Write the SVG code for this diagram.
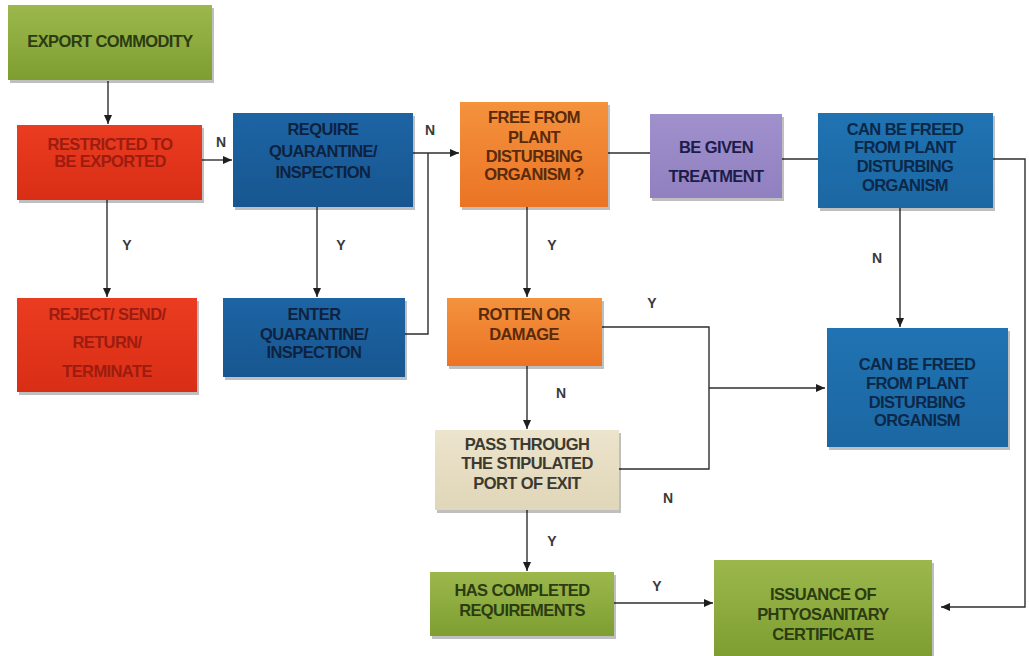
<svg xmlns="http://www.w3.org/2000/svg" width="1029" height="656" viewBox="0 0 1029 656">
<style>
.t{font-family:"Liberation Sans",Arial,sans-serif;font-weight:bold;font-size:16.5px;text-anchor:middle;letter-spacing:-0.6px}
.lbl{font-family:"Liberation Sans",Arial,sans-serif;font-weight:bold;font-size:14px;text-anchor:middle;fill:#3a3a3a}
.ln{fill:none;stroke:#2e2e2e;stroke-width:1.4}
.sh{fill:#000;opacity:0.25}
</style>
<defs>
<marker id="ah" markerWidth="10" markerHeight="10" refX="9" refY="5" orient="auto" markerUnits="userSpaceOnUse">
<path d="M0,1 L9,5 L0,9 Z" fill="#1e1e1e"/>
</marker>
<linearGradient id="gG" x1="0" y1="0" x2="0" y2="1"><stop offset="0" stop-color="#9cb84c"/><stop offset="1" stop-color="#7e9e32"/></linearGradient>
<linearGradient id="gR" x1="0" y1="0" x2="0" y2="1"><stop offset="0" stop-color="#ea3c20"/><stop offset="1" stop-color="#d92e16"/></linearGradient>
<linearGradient id="gB" x1="0" y1="0" x2="0" y2="1"><stop offset="0" stop-color="#1d64a4"/><stop offset="1" stop-color="#175690"/></linearGradient>
<linearGradient id="gB2" x1="0" y1="0" x2="0" y2="1"><stop offset="0" stop-color="#2073b2"/><stop offset="1" stop-color="#1b67a3"/></linearGradient>
<linearGradient id="gO" x1="0" y1="0" x2="0" y2="1"><stop offset="0" stop-color="#f4923e"/><stop offset="1" stop-color="#ea7424"/></linearGradient>
<linearGradient id="gP" x1="0" y1="0" x2="0" y2="1"><stop offset="0" stop-color="#a090cc"/><stop offset="1" stop-color="#9080c0"/></linearGradient>
<linearGradient id="gE" x1="0" y1="0" x2="0" y2="1"><stop offset="0" stop-color="#ece4cc"/><stop offset="1" stop-color="#e0d6b8"/></linearGradient>
</defs>
<rect width="1029" height="656" fill="#ffffff"/>

<g id="connectors">
<path class="ln" d="M108,81 V124" marker-end="url(#ah)"/>
<path class="ln" d="M202,160 H232" marker-end="url(#ah)"/>
<path class="ln" d="M107,200 V297" marker-end="url(#ah)"/>
<path class="ln" d="M317,207 V297" marker-end="url(#ah)"/>
<path class="ln" d="M413,153 H459" marker-end="url(#ah)"/>
<path class="ln" d="M405,334 H428 V153"/>
<path class="ln" d="M608,153 H650"/>
<path class="ln" d="M782,159 H818"/>
<path class="ln" d="M993,159 H1025 V607 H941" marker-end="url(#ah)"/>
<path class="ln" d="M900,208 V327" marker-end="url(#ah)"/>
<path class="ln" d="M527,207 V297" marker-end="url(#ah)"/>
<path class="ln" d="M602,327 H709 V469 H619"/>
<path class="ln" d="M709,388 H825" marker-end="url(#ah)"/>
<path class="ln" d="M527,366 V429" marker-end="url(#ah)"/>
<path class="ln" d="M527,510 V571" marker-end="url(#ah)"/>
<path class="ln" d="M614,603 H713" marker-end="url(#ah)"/>
<text class="lbl" x="221" y="147">N</text>
<text class="lbl" x="430" y="135">N</text>
<text class="lbl" x="127" y="250">Y</text>
<text class="lbl" x="341" y="250">Y</text>
<text class="lbl" x="552" y="250">Y</text>
<text class="lbl" x="877" y="263">N</text>
<text class="lbl" x="652" y="308">Y</text>
<text class="lbl" x="561" y="398">N</text>
<text class="lbl" x="668" y="503">N</text>
<text class="lbl" x="552" y="546">Y</text>
<text class="lbl" x="657" y="591">Y</text>
</g>

<g id="export-commodity">
<rect class="sh" x="10" y="8" width="204" height="75"/>
<rect x="8" y="5" width="204" height="75" fill="url(#gG)"/>
<text class="t" x="110" y="47" fill="#2c3c12">EXPORT COMMODITY</text>
</g>

<g id="restricted">
<rect class="sh" x="19" y="128" width="185" height="75"/>
<rect x="17" y="125" width="185" height="75" fill="url(#gR)"/>
<text class="t" fill="#9c1c10"><tspan x="110" y="150">RESTRICTED TO</tspan><tspan x="110" y="167">BE EXPORTED</tspan></text>
</g>

<g id="require-quarantine">
<rect class="sh" x="235" y="116" width="180" height="94"/>
<rect x="233" y="113" width="180" height="94" fill="url(#gB)"/>
<text class="t" fill="#0e2240"><tspan x="323" y="135">REQUIRE</tspan><tspan x="323" y="157">QUARANTINE/</tspan><tspan x="323" y="178">INSPECTION</tspan></text>
</g>

<g id="free-from-organism">
<rect class="sh" x="462" y="105" width="148" height="105"/>
<rect x="460" y="102" width="148" height="105" fill="url(#gO)"/>
<text class="t" fill="#5a2a0c"><tspan x="534" y="123">FREE FROM</tspan><tspan x="534" y="143">PLANT</tspan><tspan x="534" y="162">DISTURBING</tspan><tspan x="534" y="180">ORGANISM ?</tspan></text>
</g>

<g id="be-given-treatment">
<rect class="sh" x="652" y="117" width="132" height="84"/>
<rect x="650" y="114" width="132" height="84" fill="url(#gP)"/>
<text class="t" fill="#1c1c48"><tspan x="716" y="153">BE GIVEN</tspan><tspan x="716" y="182">TREATMENT</tspan></text>
</g>

<g id="can-be-freed-top">
<rect class="sh" x="820" y="116" width="175" height="95"/>
<rect x="818" y="113" width="175" height="95" fill="url(#gB2)"/>
<text class="t" fill="#0c2848"><tspan x="905" y="135">CAN BE FREED</tspan><tspan x="905" y="153">FROM PLANT</tspan><tspan x="905" y="172">DISTURBING</tspan><tspan x="905" y="191">ORGANISM</tspan></text>
</g>

<g id="reject">
<rect class="sh" x="19" y="301" width="180" height="94"/>
<rect x="17" y="298" width="180" height="94" fill="url(#gR)"/>
<text class="t" fill="#9c1c10"><tspan x="107" y="320">REJECT/ SEND/</tspan><tspan x="107" y="348">RETURN/</tspan><tspan x="107" y="377">TERMINATE</tspan></text>
</g>

<g id="enter-quarantine">
<rect class="sh" x="225" y="301" width="182" height="79"/>
<rect x="223" y="298" width="182" height="79" fill="url(#gB)"/>
<text class="t" fill="#0e2240"><tspan x="314" y="320">ENTER</tspan><tspan x="314" y="340">QUARANTINE/</tspan><tspan x="314" y="358">INSPECTION</tspan></text>
</g>

<g id="rotten-or-damage">
<rect class="sh" x="449" y="301" width="155" height="68"/>
<rect x="447" y="298" width="155" height="68" fill="url(#gO)"/>
<text class="t" fill="#5a2a0c"><tspan x="524" y="320">ROTTEN OR</tspan><tspan x="524" y="340">DAMAGE</tspan></text>
</g>

<g id="can-be-freed-bottom">
<rect class="sh" x="829" y="331" width="181" height="119"/>
<rect x="827" y="328" width="181" height="119" fill="url(#gB2)"/>
<text class="t" fill="#0c2848"><tspan x="917" y="370">CAN BE FREED</tspan><tspan x="917" y="389">FROM PLANT</tspan><tspan x="917" y="408">DISTURBING</tspan><tspan x="917" y="426">ORGANISM</tspan></text>
</g>

<g id="pass-through-port">
<rect class="sh" x="437" y="433" width="184" height="80"/>
<rect x="435" y="430" width="184" height="80" fill="url(#gE)"/>
<text class="t" fill="#3c3a30"><tspan x="527" y="450">PASS THROUGH</tspan><tspan x="527" y="469">THE STIPULATED</tspan><tspan x="527" y="489">PORT OF EXIT</tspan></text>
</g>

<g id="has-completed">
<rect class="sh" x="432" y="575" width="184" height="64"/>
<rect x="430" y="572" width="184" height="64" fill="url(#gG)"/>
<text class="t" fill="#2c3c12"><tspan x="522" y="596">HAS COMPLETED</tspan><tspan x="522" y="616">REQUIREMENTS</tspan></text>
</g>

<g id="issuance-certificate">
<rect class="sh" x="716" y="563" width="218" height="96"/>
<rect x="714" y="560" width="218" height="96" fill="url(#gG)"/>
<text class="t" fill="#2c3c12"><tspan x="823" y="600">ISSUANCE OF</tspan><tspan x="823" y="620">PHTYOSANITARY</tspan><tspan x="823" y="640">CERTIFICATE</tspan></text>
</g>
</svg>
